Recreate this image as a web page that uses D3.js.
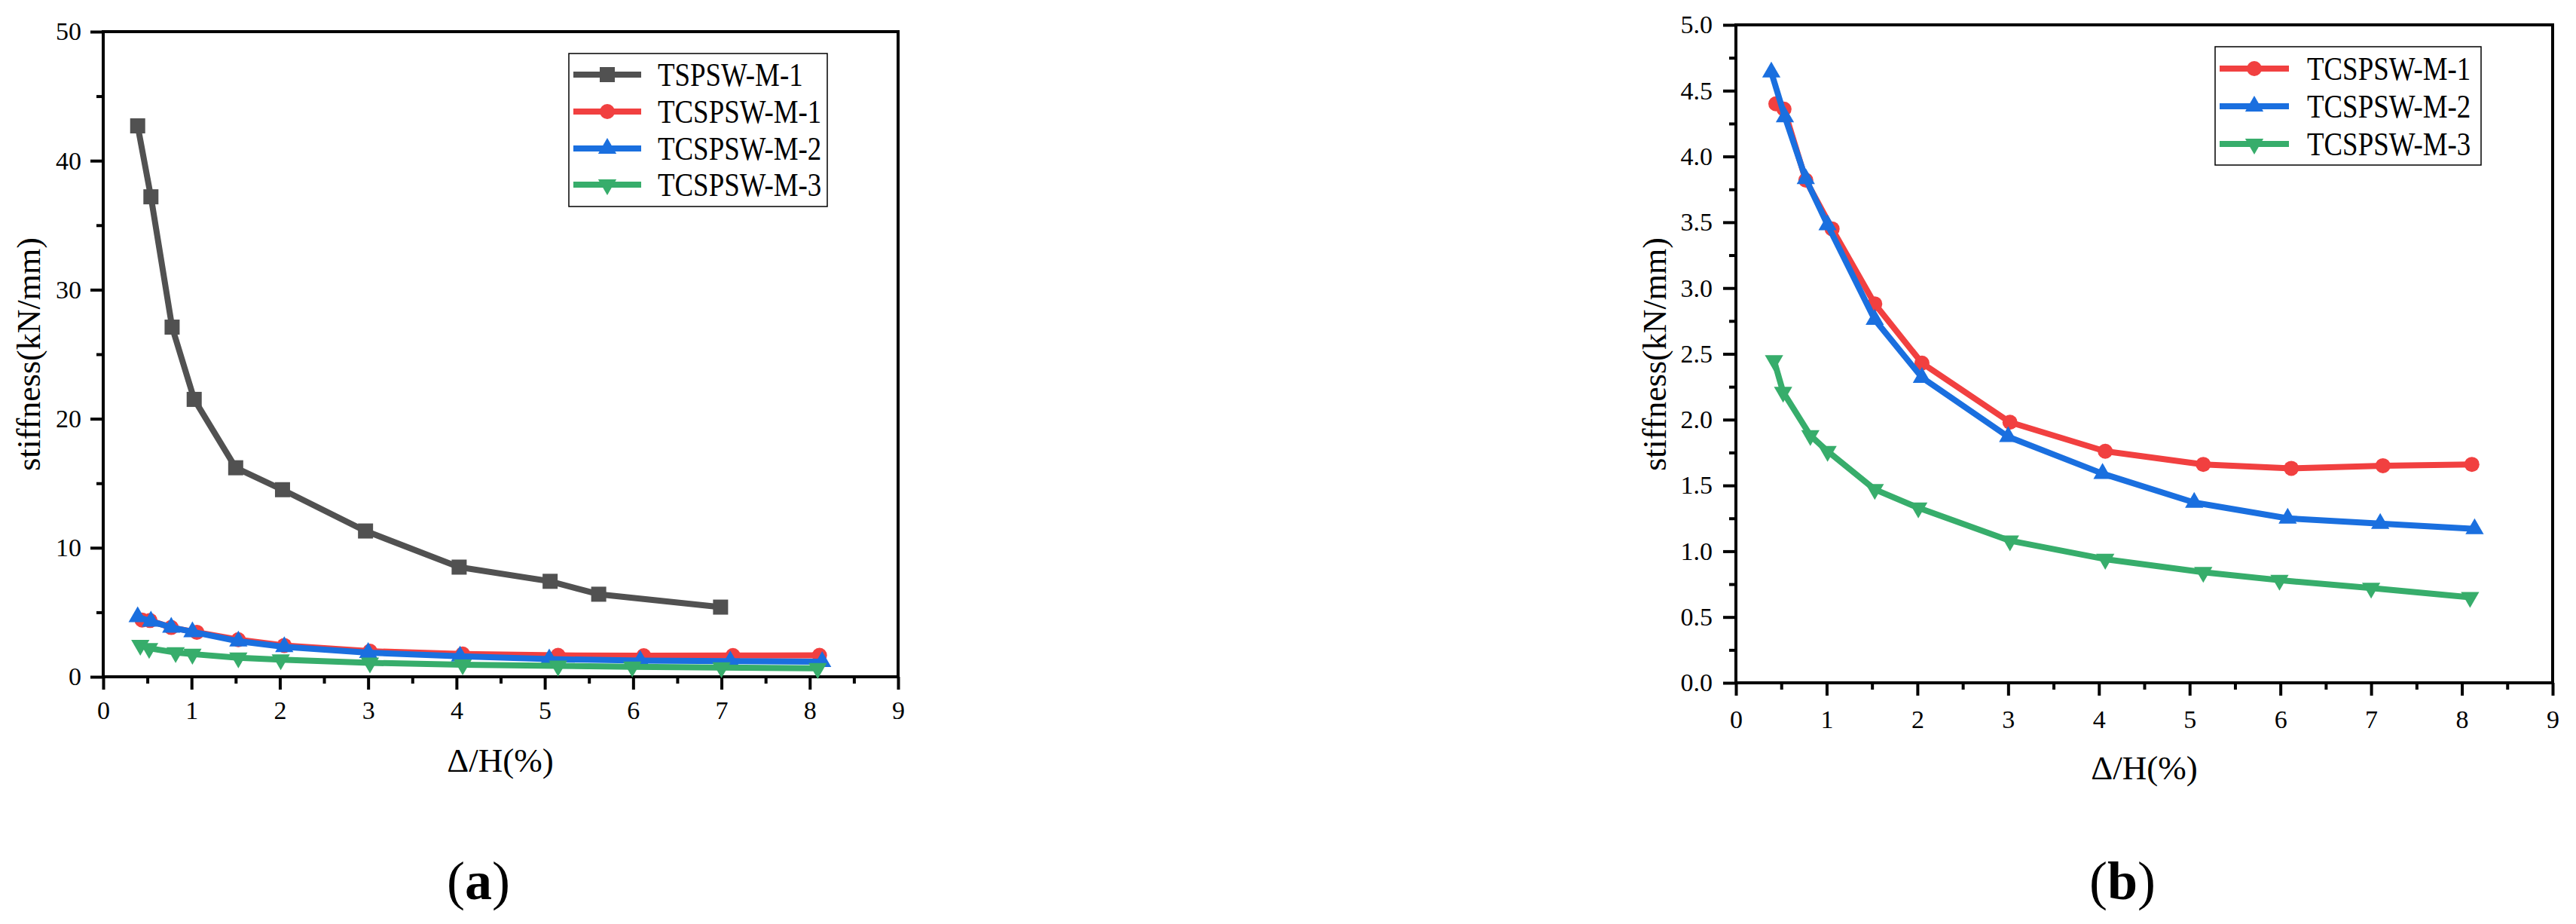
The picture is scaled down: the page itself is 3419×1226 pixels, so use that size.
<!DOCTYPE html>
<html><head><meta charset="utf-8">
<script src="https://cdn.jsdelivr.net/npm/d3@7"></script>
<style>
body{margin:0;background:#fff}
svg{display:block;background:#fff}
text{font-family:"Liberation Serif","Times New Roman",serif;fill:#000}
</style>
</head><body>
<svg id="c" width="3419" height="1226"></svg>
<script>
// ---- data ----
const seriesNames = ["TSPSW-M-1", "TCSPSW-M-1", "TCSPSW-M-2", "TCSPSW-M-3"];
const seriesColors = ["#515151", "#F14040", "#1A6FDF", "#37AD6B"];
const seriesSymbols = ["square", "circle", "triangleUp", "triangleDown"];

const tspswX = [0.39, 0.54, 0.78, 1.03, 1.50, 2.03, 2.97, 4.03, 5.06, 5.61, 6.99];
const tspswY = [42.7, 37.2, 27.1, 21.5, 16.2, 14.5, 11.3, 8.5, 7.4, 6.4, 5.4];

const tc1X = [0.44, 0.53, 0.77, 1.06, 1.53, 2.05, 3.02, 4.07, 5.15, 6.12, 7.13, 8.11];
const tc1Y = [4.40, 4.36, 3.82, 3.45, 2.88, 2.43, 1.98, 1.76, 1.66, 1.63, 1.65, 1.66];

const tc2X = [0.39, 0.54, 0.77, 1.01, 1.53, 2.05, 3.00, 4.04, 5.05, 6.08, 7.10, 8.14];
const tc2Y = [4.64, 4.30, 3.83, 3.48, 2.76, 2.32, 1.87, 1.59, 1.37, 1.25, 1.21, 1.17];

const tc3X = [0.42, 0.52, 0.82, 1.01, 1.53, 2.01, 3.02, 4.07, 5.15, 5.99, 7.00, 8.09];
const tc3Y = [2.45, 2.21, 1.88, 1.76, 1.47, 1.33, 1.08, 0.94, 0.84, 0.78, 0.72, 0.65];

const xTickValues = [0, 1, 2, 3, 4, 5, 6, 7, 8, 9];
const xMinorValues = [0.5, 1.5, 2.5, 3.5, 4.5, 5.5, 6.5, 7.5, 8.5];
const yTicksA = [0, 10, 20, 30, 40, 50];
const yMinorA = [5, 15, 25, 35, 45];
const yTicksB = [0, 0.5, 1.0, 1.5, 2.0, 2.5, 3.0, 3.5, 4.0, 4.5, 5.0];
const yMinorB = [0.25, 0.75, 1.25, 1.75, 2.25, 2.75, 3.25, 3.75, 4.25, 4.75];

const xTitle = "\u0394/H(%)";
const yTitle = "stiffness(kN/mm)";

const allSeries = [
  {name: seriesNames[0], xs: tspswX, ys: tspswY, color: seriesColors[0], sym: seriesSymbols[0]},
  {name: seriesNames[1], xs: tc1X, ys: tc1Y, color: seriesColors[1], sym: seriesSymbols[1]},
  {name: seriesNames[2], xs: tc2X, ys: tc2Y, color: seriesColors[2], sym: seriesSymbols[2]},
  {name: seriesNames[3], xs: tc3X, ys: tc3Y, color: seriesColors[3], sym: seriesSymbols[3]}
];

// ---- layout ----
const panels = [
  {left: 137, right: 1192, top: 42, bottom: 898, yDomain: [0, 50], yTicks: yTicksA, yMinor: yMinorA,
   yFmt: d3.format("d"), series: [0, 1, 2, 3], xPad: 15, yPad: 12,
   legend: {x0: 755, y0: 71, x1: 1098, y1: 274, rows: [99, 148, 197, 245], l0: 761, l1: 851, mk: 806, tx: 873},
   xTitlePos: [664, 1024], yTitlePos: [53, 470], tag: "a", tagPos: [635, 1193]},
  {left: 2304, right: 3388, top: 33, bottom: 906, yDomain: [0, 5], yTicks: yTicksB, yMinor: yMinorB,
   yFmt: d3.format(".1f"), series: [1, 2, 3], xPad: 19, yPad: 14,
   legend: {x0: 2940, y0: 62, x1: 3293, y1: 219, rows: [91, 141, 191], l0: 2946, l1: 3038, mk: 2992, tx: 3062},
   xTitlePos: [2846, 1034], yTitlePos: [2211, 470], tag: "b", tagPos: [2817, 1193]}
];

const svg = d3.select("#c");

function symbolPath(sym) {
  if (sym === "square") return d3.symbol(d3.symbolSquare, 400)();
  if (sym === "circle") return d3.symbol(d3.symbolCircle, 314)();
  return d3.symbol(d3.symbolTriangle, 255)();
}
function symbolTransform(sym, x, y) {
  return sym === "triangleDown" ? `translate(${x},${y}) rotate(180)` : `translate(${x},${y})`;
}

panels.forEach(p => {
  const g = svg.append("g");
  const x = d3.scaleLinear().domain([0, 9]).range([p.left, p.right]);
  const y = d3.scaleLinear().domain(p.yDomain).range([p.bottom, p.top]);

  // x axis
  const gx = g.append("g").attr("transform", `translate(0,${p.bottom})`)
    .call(d3.axisBottom(x).tickValues(xTickValues).tickFormat(d3.format("d"))
      .tickSize(17).tickSizeOuter(0).tickPadding(p.xPad));
  const gxm = g.append("g").attr("transform", `translate(0,${p.bottom})`)
    .call(d3.axisBottom(x).tickValues(xMinorValues).tickFormat("").tickSize(9).tickSizeOuter(0));
  // y axis
  const gy = g.append("g").attr("transform", `translate(${p.left},0)`)
    .call(d3.axisLeft(y).tickValues(p.yTicks).tickFormat(p.yFmt)
      .tickSize(17).tickSizeOuter(0).tickPadding(p.yPad));
  const gym = g.append("g").attr("transform", `translate(${p.left},0)`)
    .call(d3.axisLeft(y).tickValues(p.yMinor).tickFormat("").tickSize(9).tickSizeOuter(0));

  [gx, gxm, gy, gym].forEach(a => {
    a.select(".domain").remove();
    a.selectAll(".tick line").attr("stroke", "#000").attr("stroke-width", 4);
    a.selectAll(".tick text").attr("font-size", 34).attr("font-family", '"Liberation Serif","Times New Roman",serif').attr("fill", "#000");
  });

  // frame
  g.append("rect").attr("x", p.left).attr("y", p.top)
    .attr("width", p.right - p.left).attr("height", p.bottom - p.top)
    .attr("fill", "none").attr("stroke", "#000").attr("stroke-width", 4);

  // series
  const line = d3.line().x(d => x(d[0])).y(d => y(d[1]));
  p.series.forEach(si => {
    const s = allSeries[si];
    const pts = s.xs.map((v, i) => [v, s.ys[i]]);
    g.append("path").datum(pts).attr("d", line)
      .attr("fill", "none").attr("stroke", s.color).attr("stroke-width", 8)
      .attr("stroke-linejoin", "round");
    g.selectAll(null).data(pts).enter().append("path")
      .attr("d", symbolPath(s.sym))
      .attr("transform", d => symbolTransform(s.sym, x(d[0]), y(d[1])))
      .attr("fill", s.color);
  });

  // legend
  const L = p.legend;
  g.append("rect").attr("x", L.x0).attr("y", L.y0).attr("width", L.x1 - L.x0).attr("height", L.y1 - L.y0)
    .attr("fill", "#fff").attr("stroke", "#000").attr("stroke-width", 1.5);
  p.series.forEach((si, k) => {
    const s = allSeries[si];
    const ry = L.rows[k];
    g.append("line").attr("x1", L.l0).attr("x2", L.l1).attr("y1", ry).attr("y2", ry)
      .attr("stroke", s.color).attr("stroke-width", 8);
    g.append("path").attr("d", symbolPath(s.sym)).attr("transform", symbolTransform(s.sym, L.mk, ry))
      .attr("fill", s.color);
    g.append("text").attr("transform", `translate(${L.tx},${ry + 15}) scale(0.82,1)`)
      .attr("font-size", 45).text(s.name);
  });

  // titles
  g.append("text").attr("x", p.xTitlePos[0]).attr("y", p.xTitlePos[1])
    .attr("text-anchor", "middle").attr("font-size", 45).text(xTitle);
  g.append("text").attr("transform", `translate(${p.yTitlePos[0]},${p.yTitlePos[1]}) rotate(-90)`)
    .attr("text-anchor", "middle").attr("font-size", 44).text(yTitle);

  // panel tag
  const t = g.append("text").attr("x", p.tagPos[0]).attr("y", p.tagPos[1])
    .attr("text-anchor", "middle").attr("font-size", 72);
  t.append("tspan").text("(");
  t.append("tspan").attr("font-weight", "bold").text(p.tag);
  t.append("tspan").text(")");
});
</script>
</body></html>
